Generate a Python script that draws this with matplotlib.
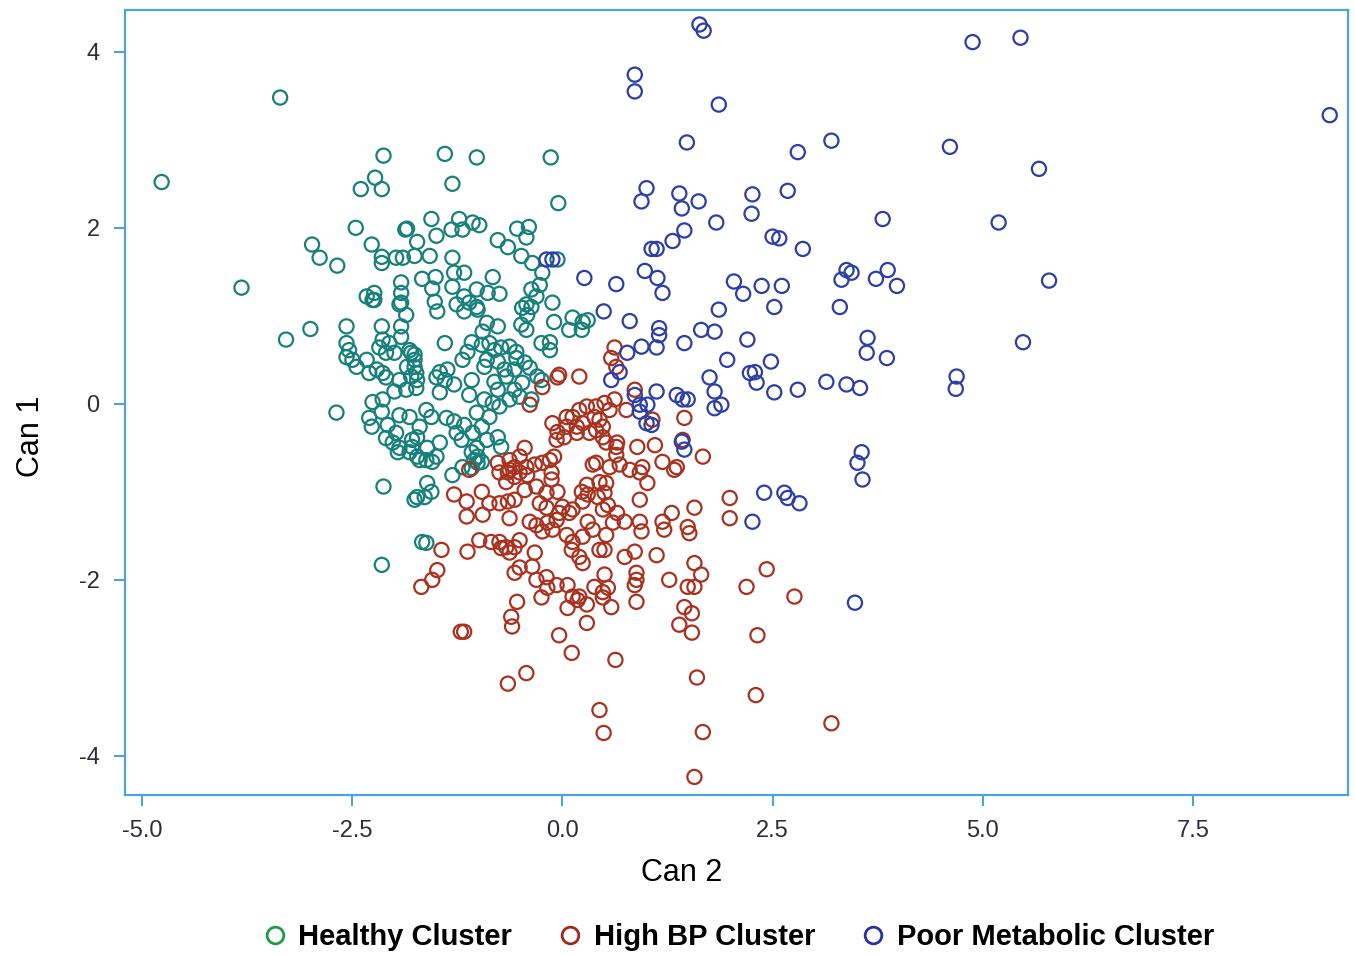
import matplotlib.pyplot as plt
from matplotlib.lines import Line2D


OUTPUT_PATH = "out.png"

# Healthy cluster (Can 2, Can 1)
healthy_x = [
    -4.77, -3.36, -3.82, -3.29, -3.00, -2.98, -2.89, -2.68, -2.46, -2.69,
    -2.13, -2.15, -2.13, -2.40, -2.23, -2.15, -1.40, -1.02, -1.31, -0.14,
    -0.05, -1.87, -2.27, -2.15, -2.15, -1.98, -1.90, -1.92, -1.92, -1.92,
    -2.33, -2.24, -2.24, -1.56, -1.85, -1.73, -1.50, -1.23, -1.07, -0.99,
    -1.32, -1.19, -0.77, -0.65, -0.54, -0.40, -0.43, -1.76, -1.58, -1.31,
    -1.29, -1.17, -1.67, -1.51, -1.55, -0.83, -0.75, -0.89, -0.49, -0.36,
    -0.06, -0.24, -0.27, -0.37, -0.31, -0.12, -0.43, -1.31, -1.17, -1.02,
    -1.11, -2.57, -2.57, -2.54, -2.57, -2.50, -2.45, -2.33, -2.30, -2.21,
    -2.15, -2.14, -2.06, -2.18, -2.10, -2.00, -1.92, -1.92, -1.94, -1.86,
    -2.26, -2.14, -2.10, -1.94, -1.85, -1.76, -1.80, -1.74, -2.00, -1.86,
    -2.26, -2.14, -2.15, -2.30, -2.27, -2.08, -1.94, -1.98, -2.10, -2.02,
    -1.94, -1.82, -1.79, -1.73, -1.49, -1.52, -1.26, -1.17, -1.01, -0.90,
    -0.77, -0.95, -1.02, -0.48, -0.42, -0.49, -0.43, -0.37, -0.10, 0.12,
    0.24, 0.30, 0.08, 0.23, -0.25, -0.15, -0.15, -1.40, -1.82, -1.76,
    -1.76, -1.80, -1.73, -1.74, -1.08, -0.96, -0.87, -0.81, -0.73, -0.63,
    -0.55, -0.55, -0.77, -0.90, -1.19, -1.13, -1.46, -1.37, -1.40, -1.50,
    -1.29, -1.08, -0.93, -0.69, -0.57, -0.45, -0.39, -0.30, -0.25, -0.48,
    -0.67, -0.81, -0.77, -0.93, -1.11, -1.46, -0.57, -0.63, -0.51, -0.37,
    -1.62, -1.56, -1.82, -1.70, -1.38, -1.29, -1.17, -1.02, -0.96, -0.87,
    -0.75, -0.83, -1.26, -1.20, -1.07, -0.90, -0.77, -0.73, -1.02, -1.79,
    -1.61, -1.46, -1.62, -1.50, -1.73, -1.08, -1.01, -0.96, -1.05, -1.31,
    -1.96, -1.76, -1.73, -1.55, -1.70, -1.19, -1.08, -1.01, -1.61, -1.56,
    -1.64, -1.62, -1.67,
]
healthy_y = [
    2.52, 3.48, 1.32, 0.73, 0.85, 1.81, 1.66, 1.57, 2.00, -0.10,
    -0.94, -1.83, 2.82, 2.44, 2.57, 2.44, 2.84, 2.80, 2.50, 2.80,
    2.28, 1.98, 1.81, 1.67, 1.60, 1.66, 1.66, 1.38, 1.26, 1.15,
    1.22, 1.26, 1.18, 2.10, 1.99, 1.84, 1.91, 2.10, 2.06, 2.03,
    1.98, 1.98, 1.86, 1.78, 1.99, 2.01, 1.89, 1.68, 1.68, 1.66,
    1.49, 1.49, 1.42, 1.44, 1.31, 1.44, 1.25, 1.26, 1.68, 1.60,
    1.64, 1.49, 1.35, 1.30, 1.22, 1.15, 1.13, 1.33, 1.22, 1.30,
    1.15, 0.88, 0.69, 0.61, 0.53, 0.50, 0.42, 0.50, 0.35, 0.39,
    0.88, 0.73, 0.69, 0.64, 0.58, 0.58, 0.88, 0.76, 1.13, 1.01,
    1.18, 0.35, 0.30, 0.27, 0.42, 0.50, 0.58, 0.35, 0.14, 0.16,
    0.02, 0.05, -0.09, -0.16, -0.26, -0.24, -0.13, -0.33, -0.39, -0.44,
    -0.50, -0.55, -0.41, -0.38, 1.05, 1.16, 1.13, 1.05, 1.07, 0.92,
    0.88, 0.82, 1.10, 1.09, 1.01, 0.90, 0.84, 1.10, 0.93, 0.98,
    0.93, 0.95, 0.84, 0.84, 0.69, 0.70, 0.61, 0.69, 0.61, 0.56,
    0.42, 0.31, 0.27, 0.18, 0.70, 0.67, 0.69, 0.61, 0.64, 0.65,
    0.59, 0.52, 0.48, 0.50, 0.50, 0.59, 0.36, 0.39, 0.27, 0.30,
    0.22, 0.27, 0.42, 0.39, 0.39, 0.47, 0.41, 0.31, 0.27, 0.24,
    0.31, 0.25, 0.16, 0.05, 0.10, 0.13, 0.16, 0.05, 0.08, 0.05,
    -0.07, -0.15, -0.15, -0.26, -0.16, -0.20, -0.24, -0.10, -0.26, -0.15,
    -0.03, 0.01, -0.33, -0.41, -0.33, -0.41, -0.38, -0.49, -0.50, -0.49,
    -0.50, -0.44, -0.64, -0.60, -0.60, -0.55, -0.60, -0.66, -0.64, -0.81,
    -0.55, -1.09, -1.06, -0.66, -0.64, -0.72, -0.73, -0.67, -0.90, -1.00,
    -1.06, -1.58, -1.57,
]

# High BP cluster
high_bp_x = [
    -0.04, -0.06, 0.20, -0.24, -0.39, 0.62, 0.58, 0.64, 0.62, 0.56,
    0.40, 0.29, 0.20, 0.12, 0.05, -0.12, -0.06, 0.05, 0.17, 0.24,
    0.38, 0.44, 0.48, 0.40, 0.32, 0.17, 0.02, -0.07, 0.48, 0.52,
    0.65, 0.64, 0.56, -0.45, -0.63, -0.77, -0.51, -0.57, -0.43, -0.33,
    -0.24, -0.15, -0.10, -0.51, -0.65, -0.42, -0.13, 0.40, -1.11, -0.63,
    -0.57, -0.75, -0.67, -0.13, -0.31, -0.45, -0.06, -0.19, 0.23, 0.29,
    0.36, 0.44, 0.52, 0.42, 0.30, 0.24, 0.48, 0.54, -1.29, -1.14,
    -1.14, -0.96, -0.95, -0.87, -0.75, -0.65, -0.57, -0.63, -0.27, -0.19,
    0.00, 0.12, -0.04, 0.08, -0.39, -0.31, -0.18, -0.24, -0.12, -0.07,
    0.05, 0.12, 0.24, 0.30, 0.36, 0.52, 0.44, 0.20, 0.24, 0.11,
    -0.99, -0.85, -0.75, -0.67, -0.57, -0.51, -0.63, -0.73, -1.44, -1.13,
    -1.49, -1.55, -1.68, -0.51, -0.57, -0.36, -0.33, -0.19, -0.31, -0.18,
    -0.07, 0.06, 0.12, 0.18, 0.38, 0.50, 0.48, 0.54, 0.58, 0.29,
    -0.54, -0.25, 0.06, 0.20, -0.61, -0.60, -1.17, -1.21, -0.04, 0.29,
    0.50, 0.86, 0.76, 1.07, 1.45, 1.43, 1.67, 1.33, 0.95, 0.68,
    0.80, 0.92, 1.01, 0.64, 0.89, 1.10, 1.19, 1.36, 0.50, 0.92,
    1.99, 1.99, 1.57, 1.30, 1.19, 0.92, 0.65, 0.60, 0.74, 1.49,
    1.51, 0.94, 1.21, 0.50, 0.74, 0.86, 1.12, 1.57, 1.65, 2.43,
    2.19, 2.76, 0.48, 0.88, 0.88, 0.86, 1.27, 1.49, 1.57, 0.88,
    1.45, 1.54, 1.39, 1.54, 2.32, 0.11, 0.63, -0.43, -0.65, 0.44,
    0.49, 1.60, 2.30, 3.20, 1.67, 1.57,
]
high_bp_y = [
    0.33, 0.30, 0.31, 0.19, -0.01, 0.64, 0.52, 0.42, 0.05, -0.07,
    -0.03, -0.03, -0.07, -0.15, -0.15, -0.22, -0.32, -0.26, -0.26, -0.22,
    -0.15, -0.18, -0.26, -0.30, -0.33, -0.33, -0.38, -0.41, -0.38, -0.44,
    -0.44, -0.58, -0.72, -0.50, -0.64, -0.67, -0.60, -0.72, -0.72, -0.69,
    -0.67, -0.64, -0.60, -0.78, -0.78, -0.81, -0.78, -0.67, -0.75, -0.75,
    -0.83, -0.78, -0.89, -0.86, -0.94, -0.98, -1.00, -1.01, -1.00, -0.92,
    -0.69, -0.89, -0.90, -1.06, -1.03, -1.11, -1.20, -1.15, -1.03, -1.11,
    -1.28, -1.00, -1.26, -1.13, -1.13, -1.11, -1.09, -1.30, -1.13, -1.18,
    -1.17, -1.20, -1.24, -1.24, -1.34, -1.38, -1.35, -1.45, -1.43, -1.32,
    -1.49, -1.57, -1.51, -1.34, -1.43, -1.49, -1.66, -1.74, -1.81, -1.66,
    -1.55, -1.57, -1.57, -1.63, -1.63, -1.55, -1.69, -1.64, -1.66, -1.68,
    -1.89, -2.00, -2.08, -1.86, -1.92, -1.85, -1.69, -1.97, -2.00, -2.09,
    -2.06, -2.06, -2.19, -2.23, -2.08, -1.94, -2.14, -2.09, -2.31, -2.28,
    -2.25, -2.20, -2.32, -2.19, -2.42, -2.53, -2.59, -2.59, -2.63, -2.49,
    0.01, 0.16, -0.07, -0.18, -0.16, -0.41, -0.60, -0.75, -0.72, -0.69,
    -0.75, -0.78, -0.90, -0.49, -0.49, -0.47, -0.66, -0.72, -1.01, -1.09,
    -1.07, -1.30, -1.18, -1.24, -1.34, -1.34, -1.24, -1.35, -1.34, -1.40,
    -1.47, -1.45, -1.43, -1.66, -1.74, -1.68, -1.72, -1.81, -1.94, -1.88,
    -2.08, -2.19, -2.20, -1.92, -2.00, -2.06, -2.00, -2.08, -2.08, -2.25,
    -2.31, -2.38, -2.51, -2.60, -2.63, -2.83, -2.91, -3.06, -3.18, -3.48,
    -3.74, -3.11, -3.31, -3.63, -3.73, -4.24,
]

# Poor metabolic cluster
poor_metabolic_x = [
    1.63, 1.68, 4.88, 5.45, 9.13, 0.86, 0.86, 1.86, 4.61, 1.48,
    3.20, 2.80, 5.67, 1.00, 0.94, 1.39, 1.42, 1.62, 2.26, 2.25,
    2.68, 1.83, 3.81, 5.19, 1.45, 1.31, 1.06, 1.12, 2.50, 2.58,
    2.86, 0.26, 0.64, 0.98, 1.13, 1.19, 2.04, 2.15, 2.37, 2.61,
    3.38, 3.44, 3.32, 3.73, 3.87, 3.98, 5.79, 0.49, 0.80, 1.86,
    2.52, 3.30, 1.15, 1.15, 1.65, 1.81, 2.20, 3.63, 5.48, -0.19,
    -0.12, 0.94, 1.12, 0.77, 1.45, 1.96, 2.48, 0.68, 0.58, 1.75,
    2.23, 2.29, 2.31, 1.81, 2.52, 2.80, 3.14, 3.38, 3.54, 3.62,
    1.12, 0.86, 1.36, 1.43, 1.49, 0.92, 1.01, 1.81, 1.89, 0.92,
    1.00, 1.06, 1.45, 1.42, 3.56, 3.51, 3.57, 2.40, 2.64, 2.68,
    2.82, 2.26, 3.86, 4.69, 4.68, 3.48,
]
poor_metabolic_y = [
    4.31, 4.24, 4.11, 4.16, 3.28, 3.74, 3.55, 3.40, 2.92, 2.97,
    2.99, 2.86, 2.67, 2.45, 2.30, 2.39, 2.22, 2.30, 2.38, 2.16,
    2.42, 2.06, 2.10, 2.06, 1.97, 1.85, 1.76, 1.76, 1.90, 1.88,
    1.76, 1.43, 1.36, 1.51, 1.43, 1.26, 1.39, 1.25, 1.34, 1.34,
    1.52, 1.49, 1.41, 1.42, 1.52, 1.34, 1.40, 1.05, 0.94, 1.07,
    1.10, 1.10, 0.86, 0.78, 0.84, 0.82, 0.73, 0.75, 0.70, 1.64,
    1.64, 0.65, 0.64, 0.58, 0.69, 0.50, 0.48, 0.36, 0.27, 0.30,
    0.35, 0.36, 0.24, 0.14, 0.13, 0.16, 0.25, 0.22, 0.18, 0.58,
    0.14, 0.10, 0.10, 0.05, 0.05, -0.01, -0.01, -0.05, -0.01, -0.09,
    -0.22, -0.24, -0.52, -0.43, -0.55, -0.67, -0.86, -1.01, -1.01, -1.07,
    -1.13, -1.34, 0.52, 0.31, 0.17, -2.26,
]

x_ticks = [-5.0, -2.5, 0.0, 2.5, 5.0, 7.5]
x_tick_labels = ["-5.0", "-2.5", "0.0", "2.5", "5.0", "7.5"]
y_ticks = [-4, -2, 0, 2, 4]
y_tick_labels = ["-4", "-2", "0", "2", "4"]

legend_labels = ["Healthy Cluster", "High BP Cluster", "Poor Metabolic Cluster"]


def main():
    plt.rcParams["font.family"] = ["Liberation Sans", "DejaVu Sans"]

    fig = plt.figure(figsize=(13.55, 9.55), dpi=100)
    ax = fig.add_axes([0.092, 0.168, 0.903, 0.822])

    marker_size = 104
    line_width = 1.6

    ax.scatter(
        healthy_x,
        healthy_y,
        s=marker_size,
        facecolors="none",
        edgecolors="#17807a",
        linewidths=line_width,
    )
    ax.scatter(
        high_bp_x,
        high_bp_y,
        s=marker_size,
        facecolors="none",
        edgecolors="#a8321f",
        linewidths=line_width,
    )
    ax.scatter(
        poor_metabolic_x,
        poor_metabolic_y,
        s=marker_size,
        facecolors="none",
        edgecolors="#2b3fa6",
        linewidths=line_width,
    )

    ax.set_xlim(-5.21, 9.35)
    ax.set_ylim(-4.44, 4.48)

    ax.set_xticks(x_ticks)
    ax.set_xticklabels(x_tick_labels)
    ax.set_yticks(y_ticks)
    ax.set_yticklabels(y_tick_labels)

    spine_color = "#4aa6d6"
    for spine in ax.spines.values():
        spine.set_color(spine_color)
        spine.set_linewidth(1.6)

    ax.tick_params(
        direction="out",
        length=8,
        width=1.5,
        color=spine_color,
        labelcolor="#2d2d3c",
        labelsize=17,
        pad=10,
    )

    # axis titles sit a bit off-centre in the original
    ax.set_xlabel("Can 2", fontsize=22)
    ax.xaxis.set_label_coords(0.455, -0.081)
    ax.set_ylabel("Can 1", fontsize=22)
    ax.yaxis.set_label_coords(-0.064, 0.456)

    handles = [
        Line2D([], [], linestyle="none", marker="o", markersize=12,
               markerfacecolor="none", markeredgewidth=2,
               markeredgecolor=color)
        for color in ["#1f9a4d", "#a0281c", "#28309e"]
    ]
    fig.legend(
        handles,
        legend_labels,
        loc="center",
        bbox_to_anchor=(0.545, 0.019),
        ncol=3,
        frameon=False,
        handlelength=0.8,
        handletextpad=0.4,
        columnspacing=1.6,
        prop={"weight": "bold", "size": 21},
    )

    fig.savefig(OUTPUT_PATH, dpi=100)
    plt.close(fig)


if __name__ == "__main__":
    main()
